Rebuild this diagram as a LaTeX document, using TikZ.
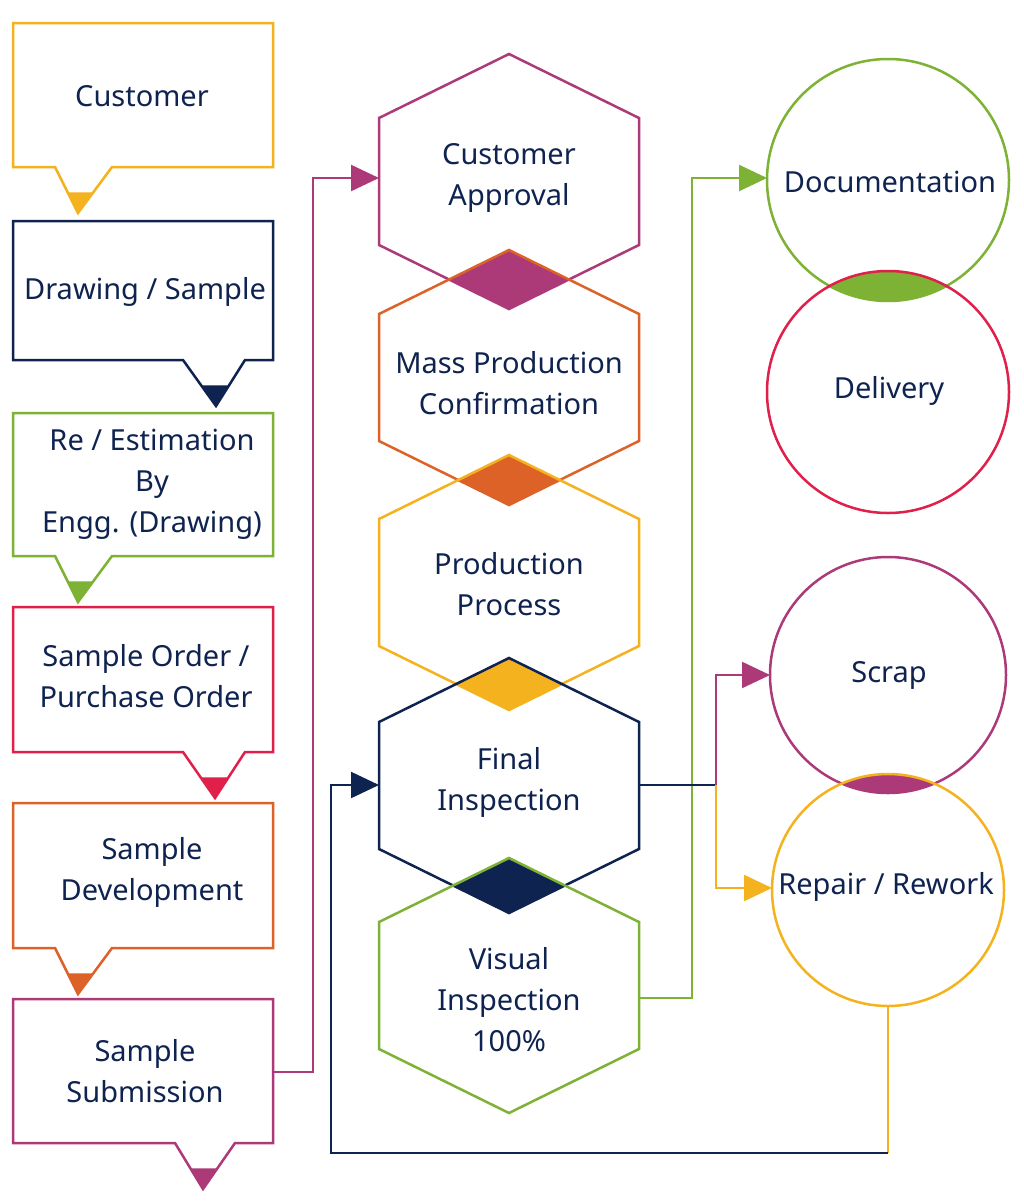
\documentclass[tikz,border=0pt]{standalone}
\usepackage{fontspec}
\setmainfont{Noto Sans}
\usetikzlibrary{arrows.meta,calc}
\definecolor{cyel}{HTML}{F5B21F}
\definecolor{cnavy}{HTML}{0F2350}
\definecolor{cgreen}{HTML}{7DB234}
\definecolor{cred}{HTML}{E01F4A}
\definecolor{corange}{HTML}{DC6228}
\definecolor{cmag}{HTML}{AD3A78}
% callout: color, top, bot, tailL, tailR, tipx
\newcommand\mycallout[6]{%
  \draw[#1] (13,#2)--(273,#2)--(273,#3)--(#5,#3)--(#6,#3+46)--(#4,#3)--(13,#3)--cycle;
  \fill[#1] ($(#4,#3)!0.55!(#6,#3+46)$)--(#6,#3+46)--($(#5,#3)!0.55!(#6,#3+46)$)--cycle;}
% hexagon path: top y
\newcommand\hexpath[1]{(509,#1)--(639,#1+64)--(639,#1+191)--(509,#1+255)--(379,#1+191)--(379,#1+64)--cycle}
\newcommand\hexfill[3]{% color, top upper, top lower
  \begin{scope}\clip \hexpath{#2}; \fill[#1] \hexpath{#3};\end{scope}}
\begin{document}
\begin{tikzpicture}[x=1pt,y=-1pt,line width=2.5pt,line join=miter,
  txt/.style={text=cnavy,font=\fontsize{29}{41}\selectfont,align=center,inner sep=0},
  arr/.style={-{Triangle[length=28pt,width=26pt]}},
  con/.style={line width=2.3pt}]
\fill[white] (0,0) rectangle (1024,1202);
\useasboundingbox (0,0) rectangle (1024,1202);
% left callouts
\mycallout{cyel}{23}{167}{55}{112}{78}
\mycallout{cnavy}{221}{360}{183}{245}{216}
\mycallout{cgreen}{413}{556}{55}{112}{78}
\mycallout{cred}{607}{752}{183}{245}{215}
\mycallout{corange}{803}{948}{55}{112}{78}
\mycallout{cmag}{999}{1143}{175}{235}{203}
\node[txt] (c1) at (142,96) {Customer};
\node[txt] (c2) at (145,292) {Drawing / Sample};
\node[txt] (c3) at (152,484) {Re / Estimation\\By\\Engg. (Drawing)};
\node[txt] (c4) at (146,676) {Sample Order /\\Purchase Order};
\node[txt] (c5) at (152,872) {Sample\\Development};
\node[txt] (c6) at (145,1071) {Sample\\Submission};
% hexagons
\hexfill{cmag}{54}{250}
\hexfill{corange}{250}{455}
\hexfill{cyel}{455}{658}
\hexfill{cnavy}{658}{858}
\draw[cmag] \hexpath{54};
\draw[corange] \hexpath{250};
\draw[cyel] \hexpath{455};
\draw[cnavy] \hexpath{658};
\draw[cgreen] \hexpath{858};
\node[txt] (h1) at (509,178) {Customer\\Approval};
\node[txt] (h2) at (509,383) {Mass Production\\Confirmation};
\node[txt] (h3) at (509,584) {Production\\Process};
\node[txt] (h4) at (509,782) {Final\\Inspection};
\node[txt] (h5) at (509,1000) {Visual\\Inspection\\100\%};
% circles
\begin{scope}\clip (888,180) circle (121); \fill[cgreen] (888,392) circle (121);\end{scope}
\begin{scope}\clip (888,675) circle (118); \fill[cmag] (888,890) circle (116);\end{scope}
\draw[cgreen] (888,180) circle (121);
\draw[cred] (888,392) circle (121);
\draw[cmag] (888,675) circle (118);
\draw[cyel] (888,890) circle (116);
\node[txt] (d1) at (890,182) {Documentation};
\node[txt] (d2) at (889,391) {Delivery};
\node[txt] (s1) at (889,675) {Scrap};
\node[txt] (s2) at (886,887) {Repair / Rework};
% anchor coordinates
\coordinate (c6e) at (273,1072);
\coordinate (h1w) at (379,178);
\coordinate (h4w) at (379,785);
\coordinate (h4e) at (639,785);
\coordinate (h5e) at (639,998);
\coordinate (d1w) at (767,178);
\coordinate (s1w) at (770,675);
\coordinate (s2w) at (772,888);
\coordinate (s2s) at (888,1006);
\coordinate (j) at (716,785);
\coordinate (k) at (888,1153);
% connectors
\draw[cmag,con,arr] (c6e) -| (313,178) -- (h1w);
\draw[cgreen,con,arr] (h5e) -| (692,178) -- (d1w);
\draw[cnavy,con] (h4e) -- (j);
\draw[cmag,con,arr] (j) |- (s1w);
\draw[cyel,con,arr] (j) |- (s2w);
\draw[cyel,con] (s2s) -- (k);
\draw[cnavy,con,arr] (k) -| (331,785) -- (h4w);
\end{tikzpicture}
\end{document}
